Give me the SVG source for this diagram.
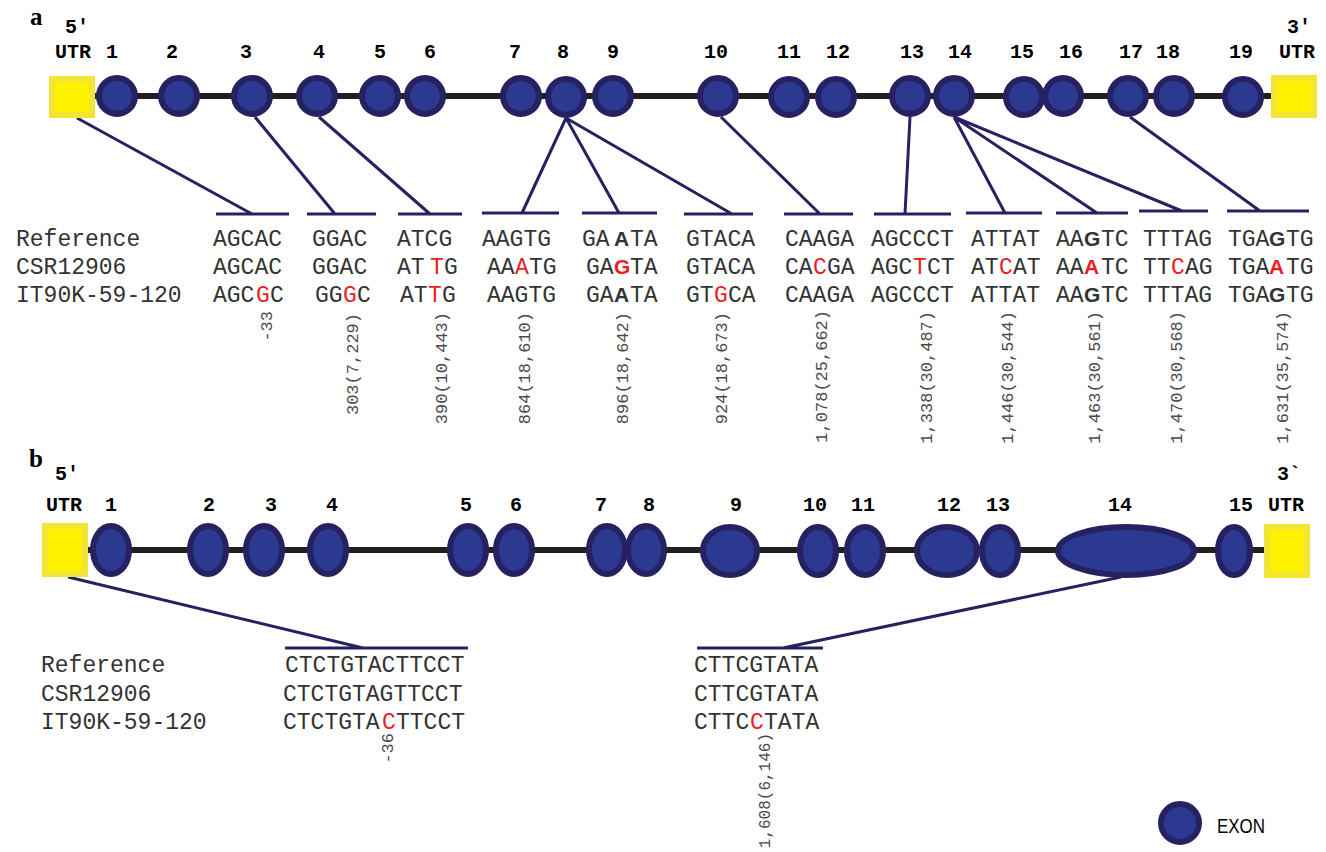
<svg xmlns="http://www.w3.org/2000/svg" width="1326" height="852" viewBox="0 0 1326 852">
<style>
.bb{stroke:#231f20;stroke-width:6}
.ex{fill:#2b3990;stroke:#262262;stroke-width:6}
.utr{fill:#fff200;stroke:#f3e535;stroke-width:6}
.ln{stroke:#262262;stroke-width:3;fill:none}
.lbl{font-family:"Liberation Mono",monospace;font-weight:bold;font-size:20px;fill:#000;text-anchor:middle}
.pl{font-family:"Liberation Serif",serif;font-weight:bold;font-size:25px;fill:#000}
.seq{font-family:"Liberation Mono",monospace;font-size:23px;fill:#333}
.r{fill:#ed1c24}
.bd{font-family:"Liberation Sans",sans-serif;font-weight:bold;font-size:21px}
.pos{font-family:"Liberation Mono",monospace;font-size:17px;fill:#4a4a4a;text-anchor:end}
.leg{font-family:"Liberation Sans",sans-serif;font-size:20px;fill:#000}
</style>

<!-- Panel a -->
<text class="pl" x="30" y="25">a</text>
<g id="labels-a" class="lbl">
<text x="77" y="33">5′</text><text x="73" y="58">UTR</text>
<text x="112" y="58">1</text><text x="172" y="58">2</text><text x="246" y="58">3</text><text x="319" y="58">4</text>
<text x="380" y="58">5</text><text x="430" y="58">6</text><text x="515" y="58">7</text><text x="563" y="58">8</text>
<text x="613" y="58">9</text><text x="716" y="58">10</text><text x="789" y="58">11</text><text x="838" y="58">12</text>
<text x="912" y="58">13</text><text x="960" y="58">14</text><text x="1022" y="58">15</text><text x="1071" y="58">16</text>
<text x="1131" y="58">17</text><text x="1168" y="58">18</text><text x="1241" y="58">19</text>
<text x="1299" y="33">3′</text><text x="1297" y="58">UTR</text>
</g>

<g id="connectors-a">
<line class="bb" x1="95" y1="96" x2="1271" y2="96"/>
<path class="ln" d="M77,118 L252,214 M216,214 H289"/>
<path class="ln" d="M255,117 L335,214 M307,214 H376"/>
<path class="ln" d="M319,117 L430,214 M398,214 H462"/>
<path class="ln" d="M566,118 L522,213 M566,118 L619,213 M566,118 L732,214 M482,213 H559 M582,213 H657 M684,214 H753"/>
<path class="ln" d="M721,117 L820,214 M784,214 H853"/>
<path class="ln" d="M910,117 L905,214 M874,214 H951"/>
<path class="ln" d="M954,117 L1005,213 M954,117 L1097,213 M954,117 L1182,211 M966,213 H1042 M1056,213 H1128 M1139,211 H1208"/>
<path class="ln" d="M1130,117 L1260,211 M1227,211 H1309"/>
</g>

<g id="utr5-a"><rect class="utr" x="52" y="79" width="40" height="36"/></g>
<g id="exon-a1"><circle class="ex" cx="117" cy="96" r="18"/></g>
<g id="exon-a2"><circle class="ex" cx="179" cy="96" r="18"/></g>
<g id="exon-a3"><circle class="ex" cx="252" cy="96" r="18"/></g>
<g id="exon-a4"><circle class="ex" cx="317" cy="96" r="18"/></g>
<g id="exon-a5"><circle class="ex" cx="380" cy="96" r="18"/></g>
<g id="exon-a6"><circle class="ex" cx="425" cy="96" r="18"/></g>
<g id="exon-a7"><circle class="ex" cx="521" cy="96" r="18"/></g>
<g id="exon-a8"><circle class="ex" cx="566" cy="97" r="18"/></g>
<g id="exon-a9"><circle class="ex" cx="613" cy="96" r="18"/></g>
<g id="exon-a10"><circle class="ex" cx="718" cy="96" r="18"/></g>
<g id="exon-a11"><circle class="ex" cx="789" cy="97" r="18"/></g>
<g id="exon-a12"><circle class="ex" cx="836" cy="97" r="18"/></g>
<g id="exon-a13"><circle class="ex" cx="910" cy="96" r="18"/></g>
<g id="exon-a14"><circle class="ex" cx="954" cy="96" r="18"/></g>
<g id="exon-a15"><circle class="ex" cx="1024" cy="97" r="18"/></g>
<g id="exon-a16"><circle class="ex" cx="1063" cy="96" r="18"/></g>
<g id="exon-a17"><circle class="ex" cx="1128" cy="96" r="18"/></g>
<g id="exon-a18"><circle class="ex" cx="1174" cy="96" r="18"/></g>
<g id="exon-a19"><circle class="ex" cx="1243" cy="97" r="18"/></g>
<g id="utr3-a"><rect class="utr" x="1274" y="78" width="40" height="37"/></g>

<g id="seq-a" class="seq">
<text x="16" y="246">Reference</text>
<text x="16" y="274">CSR12906</text>
<text x="16" y="302">IT90K-59-120</text>
<!-- Reference row -->
<text y="246"><tspan x="213">AGCAC</tspan><tspan x="312">GGAC</tspan><tspan x="397">ATCG</tspan><tspan x="482">AAGTG</tspan><tspan x="582">GA</tspan><tspan x="614" class="bd">A</tspan><tspan x="630">TA</tspan><tspan x="686">GTACA</tspan><tspan x="785">CAAGA</tspan><tspan x="871">AGCCCT</tspan><tspan x="971">ATTAT</tspan><tspan x="1056">AA</tspan><tspan x="1084" class="bd">G</tspan><tspan x="1101">TC</tspan><tspan x="1143">TTTAG</tspan><tspan x="1228">TGA</tspan><tspan x="1269" class="bd">G</tspan><tspan x="1286">TG</tspan></text>
<!-- CSR row -->
<text y="274"><tspan x="213">AGCAC</tspan><tspan x="312">GGAC</tspan><tspan x="397">AT</tspan><tspan x="430" class="r">T</tspan><tspan x="444">G</tspan><tspan x="487">AA</tspan><tspan x="515" class="r">A</tspan><tspan x="529">TG</tspan><tspan x="586">GA</tspan><tspan x="614" class="bd r">G</tspan><tspan x="630">TA</tspan><tspan x="686">GTACA</tspan><tspan x="785">CA</tspan><tspan x="813" class="r">C</tspan><tspan x="827">GA</tspan><tspan x="871">AGC</tspan><tspan x="913" class="r">T</tspan><tspan x="927">CT</tspan><tspan x="971">AT</tspan><tspan x="999" class="r">C</tspan><tspan x="1013">AT</tspan><tspan x="1056">AA</tspan><tspan x="1084" class="bd r">A</tspan><tspan x="1101">TC</tspan><tspan x="1143">TT</tspan><tspan x="1171" class="r">C</tspan><tspan x="1185">AG</tspan><tspan x="1228">TGA</tspan><tspan x="1269" class="bd r">A</tspan><tspan x="1286">TG</tspan></text>
<!-- IT row -->
<text y="302"><tspan x="213">AGC</tspan><tspan x="256" class="r">G</tspan><tspan x="270">C</tspan><tspan x="315">GG</tspan><tspan x="343" class="r">G</tspan><tspan x="357">C</tspan><tspan x="400">AT</tspan><tspan x="428" class="r">T</tspan><tspan x="442">G</tspan><tspan x="487">AAGTG</tspan><tspan x="586">GA</tspan><tspan x="614" class="bd">A</tspan><tspan x="630">TA</tspan><tspan x="686">GT</tspan><tspan x="714" class="r">G</tspan><tspan x="728">CA</tspan><tspan x="785">CAAGA</tspan><tspan x="871">AGCCCT</tspan><tspan x="971">ATTAT</tspan><tspan x="1056">AA</tspan><tspan x="1084" class="bd">G</tspan><tspan x="1101">TC</tspan><tspan x="1143">TTTAG</tspan><tspan x="1228">TGA</tspan><tspan x="1269" class="bd">G</tspan><tspan x="1286">TG</tspan></text>
</g>

<g id="pos-a" class="pos">
<text transform="translate(272,311) rotate(-90)">-33</text>
<text transform="translate(358,313) rotate(-90)">303(7,229)</text>
<text transform="translate(447,312) rotate(-90)">390(10,443)</text>
<text transform="translate(530,312) rotate(-90)">864(18,610)</text>
<text transform="translate(628,312) rotate(-90)">896(18,642)</text>
<text transform="translate(727,312) rotate(-90)">924(18,673)</text>
<text transform="translate(827,310) rotate(-90)">1,078(25,662)</text>
<text transform="translate(932,311) rotate(-90)">1,338(30,487)</text>
<text transform="translate(1013,311) rotate(-90)">1,446(30,544)</text>
<text transform="translate(1100,311) rotate(-90)">1,463(30,561)</text>
<text transform="translate(1182,311) rotate(-90)">1,470(30,568)</text>
<text transform="translate(1288,311) rotate(-90)">1,631(35,574)</text>
</g>

<!-- Panel b -->
<text class="pl" x="29" y="467">b</text>
<g id="labels-b" class="lbl">
<text x="67" y="480">5′</text><text x="64" y="511">UTR</text>
<text x="111" y="511">1</text><text x="209" y="511">2</text><text x="271" y="511">3</text><text x="332" y="511">4</text>
<text x="466" y="511">5</text><text x="516" y="511">6</text><text x="601" y="511">7</text><text x="649" y="511">8</text>
<text x="736" y="511">9</text><text x="815" y="511">10</text><text x="863" y="511">11</text><text x="949" y="511">12</text>
<text x="998" y="511">13</text><text x="1120" y="511">14</text><text x="1241" y="511">15</text>
<text x="1289" y="480">3`</text><text x="1286" y="511">UTR</text>
</g>

<g id="connectors-b">
<line class="bb" x1="88" y1="550" x2="1264" y2="550"/>
<path class="ln" d="M68,577 L363,648 M285,648 H468"/>
<path class="ln" d="M1121,577 L783,648 M697,648 H823"/>
</g>

<g id="utr5-b"><rect class="utr" x="45" y="526" width="40" height="48"/></g>
<g id="exon-b1"><ellipse class="ex" cx="111" cy="550" rx="18" ry="24"/></g>
<g id="exon-b2"><ellipse class="ex" cx="208" cy="550" rx="18" ry="24"/></g>
<g id="exon-b3"><ellipse class="ex" cx="264" cy="550" rx="18" ry="24"/></g>
<g id="exon-b4"><ellipse class="ex" cx="328" cy="550" rx="18" ry="24"/></g>
<g id="exon-b5"><ellipse class="ex" cx="468" cy="550" rx="18" ry="24"/></g>
<g id="exon-b6"><ellipse class="ex" cx="514" cy="550" rx="18" ry="24"/></g>
<g id="exon-b7"><ellipse class="ex" cx="607" cy="550" rx="18" ry="24"/></g>
<g id="exon-b8"><ellipse class="ex" cx="646" cy="550" rx="18" ry="24"/></g>
<g id="exon-b9"><ellipse class="ex" cx="730" cy="551" rx="27" ry="24"/></g>
<g id="exon-b10"><ellipse class="ex" cx="818" cy="551" rx="18" ry="24"/></g>
<g id="exon-b11"><ellipse class="ex" cx="865" cy="551" rx="18" ry="24"/></g>
<g id="exon-b12"><ellipse class="ex" cx="947" cy="551" rx="30" ry="24"/></g>
<g id="exon-b13"><ellipse class="ex" cx="1000" cy="551" rx="18" ry="24"/></g>
<g id="exon-b14"><ellipse class="ex" cx="1126" cy="551" rx="68" ry="24"/></g>
<g id="exon-b15"><ellipse class="ex" cx="1234" cy="551" rx="16" ry="24"/></g>
<g id="utr3-b"><rect class="utr" x="1267" y="527" width="40" height="48"/></g>

<g id="seq-b" class="seq">
<text x="41" y="672">Reference</text>
<text x="41" y="701">CSR12906</text>
<text x="41" y="729">IT90K-59-120</text>
<text x="285" y="672">CTCTGTACTTCCT</text>
<text x="283" y="701">CTCTGTAGTTCCT</text>
<text y="729"><tspan x="283">CTCTGTA</tspan><tspan x="382" class="r">C</tspan><tspan x="396">TTCCT</tspan></text>
<text x="694" y="672">CTTCGTATA</text>
<text x="694" y="701">CTTCGTATA</text>
<text y="729"><tspan x="694">CTTC</tspan><tspan x="750" class="r">C</tspan><tspan x="764">TATA</tspan></text>
</g>

<g id="pos-b" class="pos">
<text transform="translate(393,733) rotate(-90)">-36</text>
<text transform="translate(770,733) rotate(-90)" style="font-size:16px">1,608(6,146)</text>
</g>

<g id="legend">
<circle class="ex" cx="1180" cy="823" r="19"/>
<text class="leg" x="1217" y="833" textLength="48" lengthAdjust="spacingAndGlyphs">EXON</text>
</g>
</svg>
